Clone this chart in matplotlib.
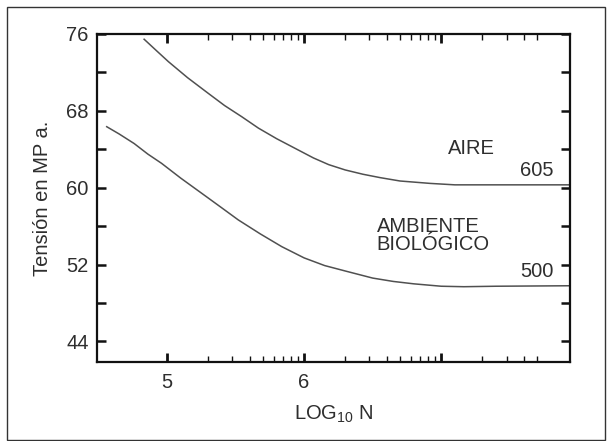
import numpy as np
import matplotlib.pyplot as plt
from matplotlib.patches import Rectangle
from matplotlib.ticker import FixedLocator, NullFormatter

plt.rcParams['font.family'] = ['Liberation Sans', 'DejaVu Sans']
plt.rcParams['mathtext.default'] = 'regular'

# Curva superior (aire, 605 MPa)
log_n_aire = [4.833, 4.92, 5.01, 5.15, 5.30, 5.42, 5.545, 5.667, 5.80, 5.934,
              6.068, 6.18, 6.30, 6.43, 6.555, 6.70, 6.92, 7.10, 7.285, 7.50, 7.94]
tension_aire = [75.45, 74.3, 73.12, 71.45, 69.83, 68.55, 67.39, 66.2, 65.1, 64.1,
                63.1, 62.4, 61.85, 61.4, 61.05, 60.7, 60.45, 60.3, 60.3, 60.3, 60.3]

# Curva inferior (ambiente biologico, 500 MPa)
log_n_bio = [4.56, 4.65, 4.76, 4.86, 4.96, 5.10, 5.29, 5.40, 5.52, 5.68, 5.837,
             6.00, 6.15, 6.31, 6.50, 6.65, 6.80, 7.00, 7.165, 7.40, 7.94]
tension_bio = [66.35, 65.6, 64.6, 63.5, 62.54, 61.0, 59.04, 57.9, 56.65, 55.2, 53.87,
               52.7, 51.9, 51.3, 50.6, 50.25, 50.0, 49.75, 49.7, 49.75, 49.8]

y_mayores = [44, 52, 60, 68, 76]
y_menores = [48, 56, 64, 72]
x_mayores = [1e5, 1e6, 1e7]
x_etiquetas = ['5', '6', '']
x_menores = [k * 1e5 for k in range(2, 10)] + [k * 1e6 for k in range(2, 10)] + [k * 1e7 for k in range(2, 6)]

gris = '#2e2e2e'
fig = plt.figure(figsize=(6.08, 4.41), dpi=100)
ax = fig.add_axes([0.1595, 0.179, 0.778, 0.744])

ax.plot(10 ** np.array(log_n_aire), tension_aire, color='#505050', lw=1.1)
ax.plot(10 ** np.array(log_n_bio), tension_bio, color='#505050', lw=1.1)

ax.set_xscale('log')
ax.set_xlim(10 ** 4.489, 10 ** 7.94)
ax.set_ylim(41.86, 76)

ax.xaxis.set_major_locator(FixedLocator(x_mayores))
ax.set_xticklabels(x_etiquetas)
ax.xaxis.set_minor_locator(FixedLocator(x_menores))
ax.xaxis.set_minor_formatter(NullFormatter())
ax.yaxis.set_major_locator(FixedLocator(y_mayores))
ax.yaxis.set_minor_locator(FixedLocator(y_menores))

for s in ax.spines.values():
    s.set_linewidth(1.6)
    s.set_color('#111111')

ax.tick_params(which='both', direction='in', top=True, right=True,
               labelsize=14.5, labelcolor=gris, color='#111111')
ax.tick_params(axis='x', which='major', length=6.5, width=2.0, pad=8)
ax.tick_params(axis='x', which='minor', length=4.5, width=1.0)
ax.tick_params(axis='y', which='both', length=6.5, width=1.8, pad=6)

ax.set_xlabel('LOG$_{10}$ N', fontsize=14.5, color=gris, labelpad=8)
ax.set_ylabel('Tensión en MP a.', fontsize=14.5, color=gris, labelpad=10)

ax.text(10 ** 7.217, 64.1, 'AIRE', fontsize=14.5, color=gris, ha='center', va='center')
ax.text(10 ** 7.82, 60.8, '605', fontsize=14.5, color=gris, ha='right', va='bottom')
ax.text(10 ** 6.53, 55.0, 'AMBIENTE\nBIOLÓGICO', fontsize=14.5, color=gris,
        ha='left', va='center', linespacing=0.95)
ax.text(10 ** 7.82, 50.3, '500', fontsize=14.5, color=gris, ha='right', va='bottom')

fig.patches.append(Rectangle((0.0115, 0.003), 0.983, 0.981, transform=fig.transFigure,
                             fill=False, edgecolor='#333333', lw=1.0))

fig.savefig('out.png', dpi=100)
